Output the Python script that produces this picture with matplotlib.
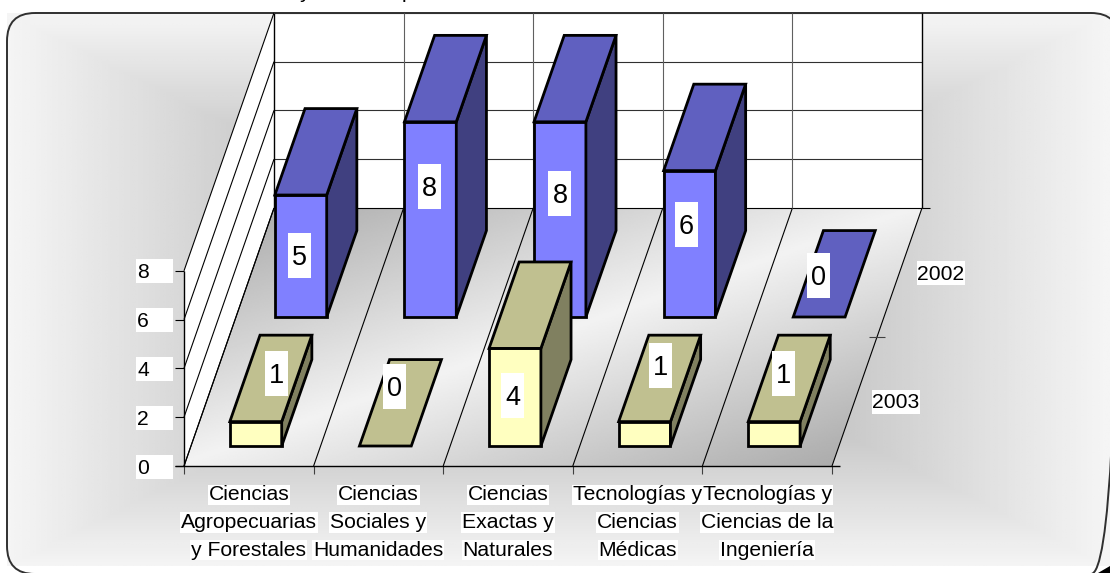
#!/usr/bin/env python3
# -*- coding: utf-8 -*-

import numpy as np
import matplotlib
matplotlib.use("Agg")
import matplotlib.pyplot as plt
from matplotlib.patches import FancyBboxPatch, Polygon, Rectangle

CATEGORIES = [
    ["Ciencias", "Agropecuarias", "y Forestales"],
    ["Ciencias", "Sociales y", "Humanidades"],
    ["Ciencias", "Exactas y", "Naturales"],
    ["Tecnologías y", "Ciencias", "Médicas"],
    ["Tecnologías y", "Ciencias de la", "Ingeniería"],
]
SERIES = ["2003", "2002"]
VALUES_2003 = [1, 0, 4, 1, 1]
VALUES_2002 = [5, 8, 8, 6, 0]
VALUE_TICKS = [0, 2, 4, 6, 8]

# projection of the 3d plot box onto the picture, in pixels
ORIGIN = (184.0, 466.0)
CAT_DX = 129.6
DEPTH_DX = 45.0
DEPTH_DY = -129.0
VALUE_DY = -24.4

BAR_X = (0.3, 0.7)
BAR_D = (0.155, 0.825)

TICKLBLSIZE = 15.2
DATALBLSIZE = 19.5

COLORS = {
    "2002": ("#8080FF", "#6060C0", "#404080"),
    "2003": ("#FFFFC0", "#C0C090", "#808060"),
}

# where each data label sits relative to the bottom of its bar front
NUDGE_2003 = [(21, -73), (9, -60), (-2, -51), (16, -81), (9, -73)]
NUDGE_2002 = [(-1, -62), (-1, -131), (0, -124), (-3, -93), (-1, -42)]


def proj(cat, depth, value=0.0):
    return (ORIGIN[0] + cat * CAT_DX + depth * DEPTH_DX,
            ORIGIN[1] + depth * DEPTH_DY + value * VALUE_DY)


def draw_line(ax, a, b, color="black", lw=0.8, z=3):
    ax.plot([a[0], b[0]], [a[1], b[1]], color=color, lw=lw, zorder=z,
            solid_capstyle="butt")


def boxed(ax, cx, cy, w, h, txt, size, ha="center", z=12):
    ax.add_patch(Rectangle((cx - w / 2, cy - h / 2), w, h, fc="white", ec="none", zorder=z))
    x = cx if ha == "center" else cx - w / 2 + 1
    ax.text(x, cy - 0.5, txt, fontsize=size, ha=ha, va="center_baseline", color="black", zorder=z + 1)


def draw_bar(ax, cat, series, value, z):
    front, top, side = COLORS[SERIES[series]]
    x0, x1 = cat + BAR_X[0], cat + BAR_X[1]
    d0, d1 = series + BAR_D[0], series + BAR_D[1]
    kw = dict(ec="black", lw=2.0, joinstyle="miter", zorder=z)
    if value > 0:
        ax.add_patch(Polygon([proj(x0, d0), proj(x1, d0), proj(x1, d0, value), proj(x0, d0, value)],
                             fc=front, **kw))
        ax.add_patch(Polygon([proj(x1, d0), proj(x1, d1), proj(x1, d1, value), proj(x1, d0, value)],
                             fc=side, **kw))
    ax.add_patch(Polygon([proj(x0, d0, value), proj(x1, d0, value), proj(x1, d1, value), proj(x0, d1, value)],
                         fc=top, **kw))


def main():
    fig = plt.figure(figsize=(11.1, 5.73), dpi=100)
    plt.rcParams["font.family"] = ["Liberation Sans", "DejaVu Sans"]
    ax = fig.add_axes([0, 0, 1, 1])

    ncat = len(CATEGORIES)
    nser = len(SERIES)
    ymax = VALUE_TICKS[-1]

    # chart area background, lighter towards the edges
    gx, gy = np.meshgrid(np.linspace(7, 1110, 400), np.linspace(13, 566, 200))
    t = np.maximum(np.abs(gx - 558) / 551, np.abs(gy - 290) / 277)
    ax.imshow(0.60 + 0.36 * t, extent=(7, 1110, 566, 13), cmap="gray", vmin=0, vmax=1,
              aspect="auto", interpolation="bilinear", zorder=0)

    # rounded frame runs past the right and bottom picture edges
    ax.add_patch(FancyBboxPatch((35, 41), 1056, 505, boxstyle="round,pad=28,rounding_size=28",
                                fc="none", ec="#303030", lw=1.4, zorder=1))
    ax.add_patch(Polygon([(1098, 573), (1110, 566), (1110, 573)], fc="black", ec="none", zorder=1))

    # walls
    ax.add_patch(Polygon([proj(0, nser), proj(ncat, nser), proj(ncat, nser, ymax * 1.0), proj(0, nser, ymax)],
                         fc="white", ec="none", zorder=2))
    ax.add_patch(Polygon([proj(0, 0), proj(0, nser), proj(0, nser, ymax), proj(0, 0, ymax)],
                         fc="white", ec="none", zorder=2))

    # floor with its diagonal light band
    fx, fy = np.meshgrid(np.linspace(184, 921, 400), np.linspace(208, 466, 200))
    s = (fy - 313) + 0.35 * (fx - 613)
    floor = ax.imshow(0.95 - 0.27 * np.abs(s) / 225, extent=(184, 921, 466, 208), cmap="gray",
                      vmin=0, vmax=1, aspect="auto", interpolation="bilinear", zorder=2)
    floor.set_clip_path(Polygon([proj(0, 0), proj(ncat, 0), proj(ncat, nser), proj(0, nser)],
                                transform=ax.transData))

    # grid lines
    for v in VALUE_TICKS:
        a = proj(0, 0, v)
        draw_line(ax, a, proj(0, nser, v))
        draw_line(ax, proj(0, nser, v), proj(ncat, nser, v), color="#303030" if v else "black")
        draw_line(ax, (a[0] - 9, a[1]), a)
        boxed(ax, 154.5, a[1] + 0.5, 37, 24, str(v), TICKLBLSIZE, ha="left")
    draw_line(ax, proj(0, nser), proj(0, nser, ymax), lw=1.0)
    draw_line(ax, proj(0, 0), proj(0, 0, ymax), lw=1.0)
    draw_line(ax, proj(ncat, nser), proj(ncat, nser, ymax), lw=1.0)
    for c in range(ncat + 1):
        draw_line(ax, proj(c, 0), proj(c, nser))
        back = proj(c, nser)
        if 0 < c < ncat:
            draw_line(ax, back, proj(c, nser, ymax), color="#606060")
        f = proj(c, 0)
        draw_line(ax, f, (f[0], f[1] + 8), color="#404040")
    draw_line(ax, (ORIGIN[0] - 9, ORIGIN[1]), (proj(ncat, 0)[0] + 8, ORIGIN[1]), lw=1.0)
    e = proj(ncat, nser)
    draw_line(ax, e, (e[0] + 8, e[1]), lw=0.8)
    m = proj(ncat, 1)
    draw_line(ax, (m[0] - 8, m[1]), (m[0] + 8, m[1]), color="#404040")

    # bars, back row first
    z = 5.0
    for series, values in [(1, VALUES_2002), (0, VALUES_2003)]:
        for cat, val in enumerate(values):
            draw_bar(ax, cat, series, val, z)
            z += 0.1

    # data labels
    for series, values, nudges in [(1, VALUES_2002, NUDGE_2002), (0, VALUES_2003, NUDGE_2003)]:
        for cat, (val, nudge) in enumerate(zip(values, nudges)):
            x, y = proj(cat + 0.5, series + BAR_D[0])
            boxed(ax, x + nudge[0], y + nudge[1], 23, 45, str(val), DATALBLSIZE)

    # category labels
    for c, lines in enumerate(CATEGORIES):
        cx = ORIGIN[0] + (c + 0.5) * CAT_DX
        for i, line in enumerate(lines):
            ax.text(cx, 493 + i * 27.5, line, fontsize=TICKLBLSIZE, ha="center", va="center_baseline",
                    zorder=11, bbox=dict(fc="white", ec="none", boxstyle="square,pad=0.04"))

    # series labels
    for i, name in enumerate(SERIES):
        p = proj(ncat, i + 0.5)
        boxed(ax, p[0] + 41, p[1] + (0.5 if i else 0), 48, 24, name, TICKLBLSIZE)

    # title is cut off by the picture edge, only the descenders are left
    ax.text(305, -2.5, "y", fontsize=TICKLBLSIZE, ha="center", va="baseline", clip_on=False)
    ax.text(408, -2.5, "p", fontsize=TICKLBLSIZE, ha="center", va="baseline", clip_on=False)

    ax.set_xlim(0, 1110)
    ax.set_ylim(573, 0)
    ax.axis("off")

    plt.savefig("out.png", dpi=100, facecolor="white")
    plt.close()


if __name__ == "__main__":
    main()
